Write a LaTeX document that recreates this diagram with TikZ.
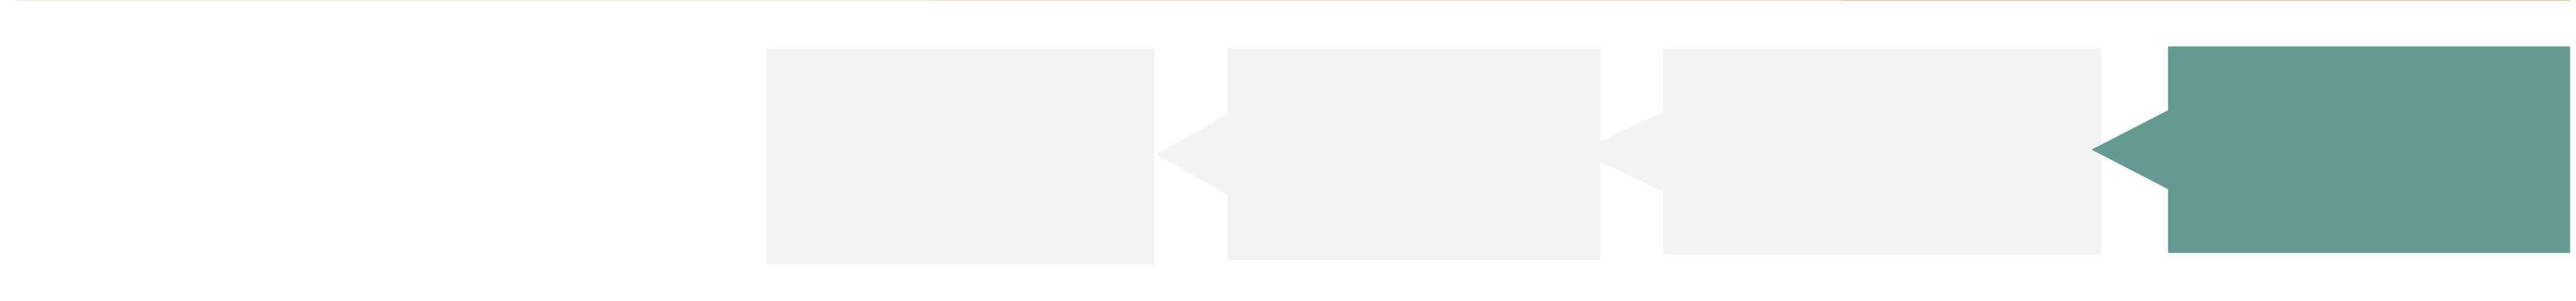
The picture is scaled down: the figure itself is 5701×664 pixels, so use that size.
\documentclass[tikz,border=0pt]{standalone}
\begin{document}
\begin{tikzpicture}[x=0.1pt,y=-0.1pt,
  stepfill/.style={fill=boxgray,draw=none},
  activefill/.style={fill=tealc,draw=none},
  progline/.style={line width=0.18pt, line cap=butt}]
\definecolor{boxgray}{HTML}{F3F3F5}
\definecolor{tealc}{HTML}{669B92}
\definecolor{goldA}{HTML}{EFE6D6}
\definecolor{goldB}{HTML}{E6D4B3}
\definecolor{goldC}{HTML}{D8B882}
\useasboundingbox[fill=white] (0,0) rectangle (5701,664);
% progress line at the top
\coordinate (g0) at (38,0.9);
\coordinate (g1) at (2058,0.9);
\coordinate (g2) at (4076,0.9);
\coordinate (g3) at (5689,0.9);
\draw[progline,draw=goldA] (g0) -- (g1);
\draw[progline,draw=goldB] (g1) -- (g2);
\draw[progline,draw=goldC] (g2) -- (g3);
% step 1
\path[stepfill] (1697,107) rectangle (2554,584);
% step 3 (tip hidden behind step 2)
\path[stepfill] (3680,107) -- (4650,107) -- (4650,563) -- (3680,563) -- (3680,422.3) -- (3493,335) -- (3680,247.7) -- cycle;
% step 2
\path[stepfill] (2717,107) -- (3542,107) -- (3542,575) -- (2717,575) -- (2717,430.7) -- (2559,341.2) -- (2717,251.7) -- cycle;
% step 4 (active)
\path[activefill] (4798,102.5) -- (5688,102.5) -- (5688,559) -- (4798,559) -- (4798,418) -- (4629,330.7) -- (4798,243.7) -- cycle;
\end{tikzpicture}
\end{document}
